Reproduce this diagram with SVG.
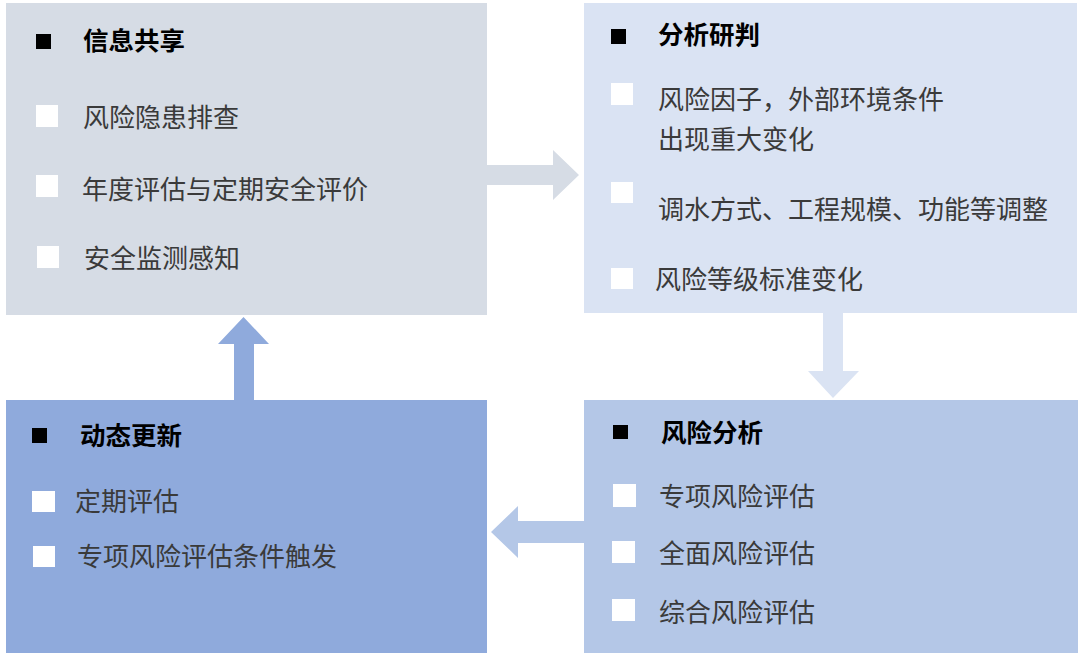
<svg xmlns="http://www.w3.org/2000/svg" width="1080" height="655" viewBox="0 0 1080 655">
<style>
.t{font-family:"Noto Sans CJK SC","Noto Sans",sans-serif;font-size:25.5px;font-weight:bold;fill:#000}
.i{font-family:"Noto Sans CJK SC","Noto Sans",sans-serif;font-size:26px;fill:#3a3a3a}
.b{fill:#000}
.w{fill:#fff}
</style>
<rect width="1080" height="655" fill="#fff"/>
<g id="connectors">
<polygon points="487,165 553,165 553,150 579,175 553,200 553,185 487,185" fill="#D6DCE5"/>
<polygon points="823,313 843,313 843,371 859,371 833,398 808,371 823,371" fill="#DAE3F3"/>
<polygon points="584,521 518,521 518,506 491,532 518,558 518,543 584,543" fill="#B4C7E7"/>
<polygon points="234,400 234,344 218,344 243.5,317 269,344 254,344 254,400" fill="#8FAADC"/>
</g>
<g id="node-xinxi">
<rect x="6" y="3" width="481" height="312" fill="#D6DCE5"/>
<rect class="b" x="36" y="34" width="15" height="15"/>
<text class="t" x="83" y="50">信息共享</text>
<rect class="w" x="36" y="105" width="22" height="22"/>
<text class="i" x="83" y="127">风险隐患排查</text>
<rect class="w" x="36" y="175" width="22" height="22"/>
<text class="i" x="82" y="199">年度评估与定期安全评价</text>
<rect class="w" x="37" y="246" width="22" height="22"/>
<text class="i" x="84" y="268">安全监测感知</text>
</g>
<g id="node-fenxi">
<rect x="584" y="3" width="493" height="310" fill="#DAE3F3"/>
<rect class="b" x="611" y="29" width="15" height="15"/>
<text class="t" x="658" y="44">分析研判</text>
<rect class="w" x="611" y="83" width="22" height="22"/>
<text class="i" x="658" y="109">风险因子，外部环境条件</text>
<text class="i" x="658" y="149">出现重大变化</text>
<rect class="w" x="611" y="182" width="22" height="21"/>
<text class="i" x="658" y="219">调水方式、工程规模、功能等调整</text>
<rect class="w" x="611" y="268" width="22" height="21"/>
<text class="i" x="655" y="289">风险等级标准变化</text>
</g>
<g id="node-dongtai">
<rect x="6" y="400" width="481" height="253" fill="#8FAADC"/>
<rect class="b" x="32" y="428" width="15" height="15"/>
<text class="t" x="80" y="445">动态更新</text>
<rect class="w" x="32" y="491" width="23" height="21"/>
<text class="i" x="75" y="511">定期评估</text>
<rect class="w" x="33" y="546" width="22" height="21"/>
<text class="i" x="77" y="566">专项风险评估条件触发</text>
</g>
<g id="node-fengxian">
<rect x="584" y="400" width="494" height="253" fill="#B4C7E7"/>
<rect class="b" x="613" y="425" width="15" height="14"/>
<text class="t" x="661" y="442">风险分析</text>
<rect class="w" x="613" y="484" width="23" height="23"/>
<text class="i" x="659" y="506">专项风险评估</text>
<rect class="w" x="612" y="541" width="23" height="22"/>
<text class="i" x="659" y="563">全面风险评估</text>
<rect class="w" x="612" y="599" width="23" height="22"/>
<text class="i" x="659" y="622">综合风险评估</text>
</g>
</svg>
